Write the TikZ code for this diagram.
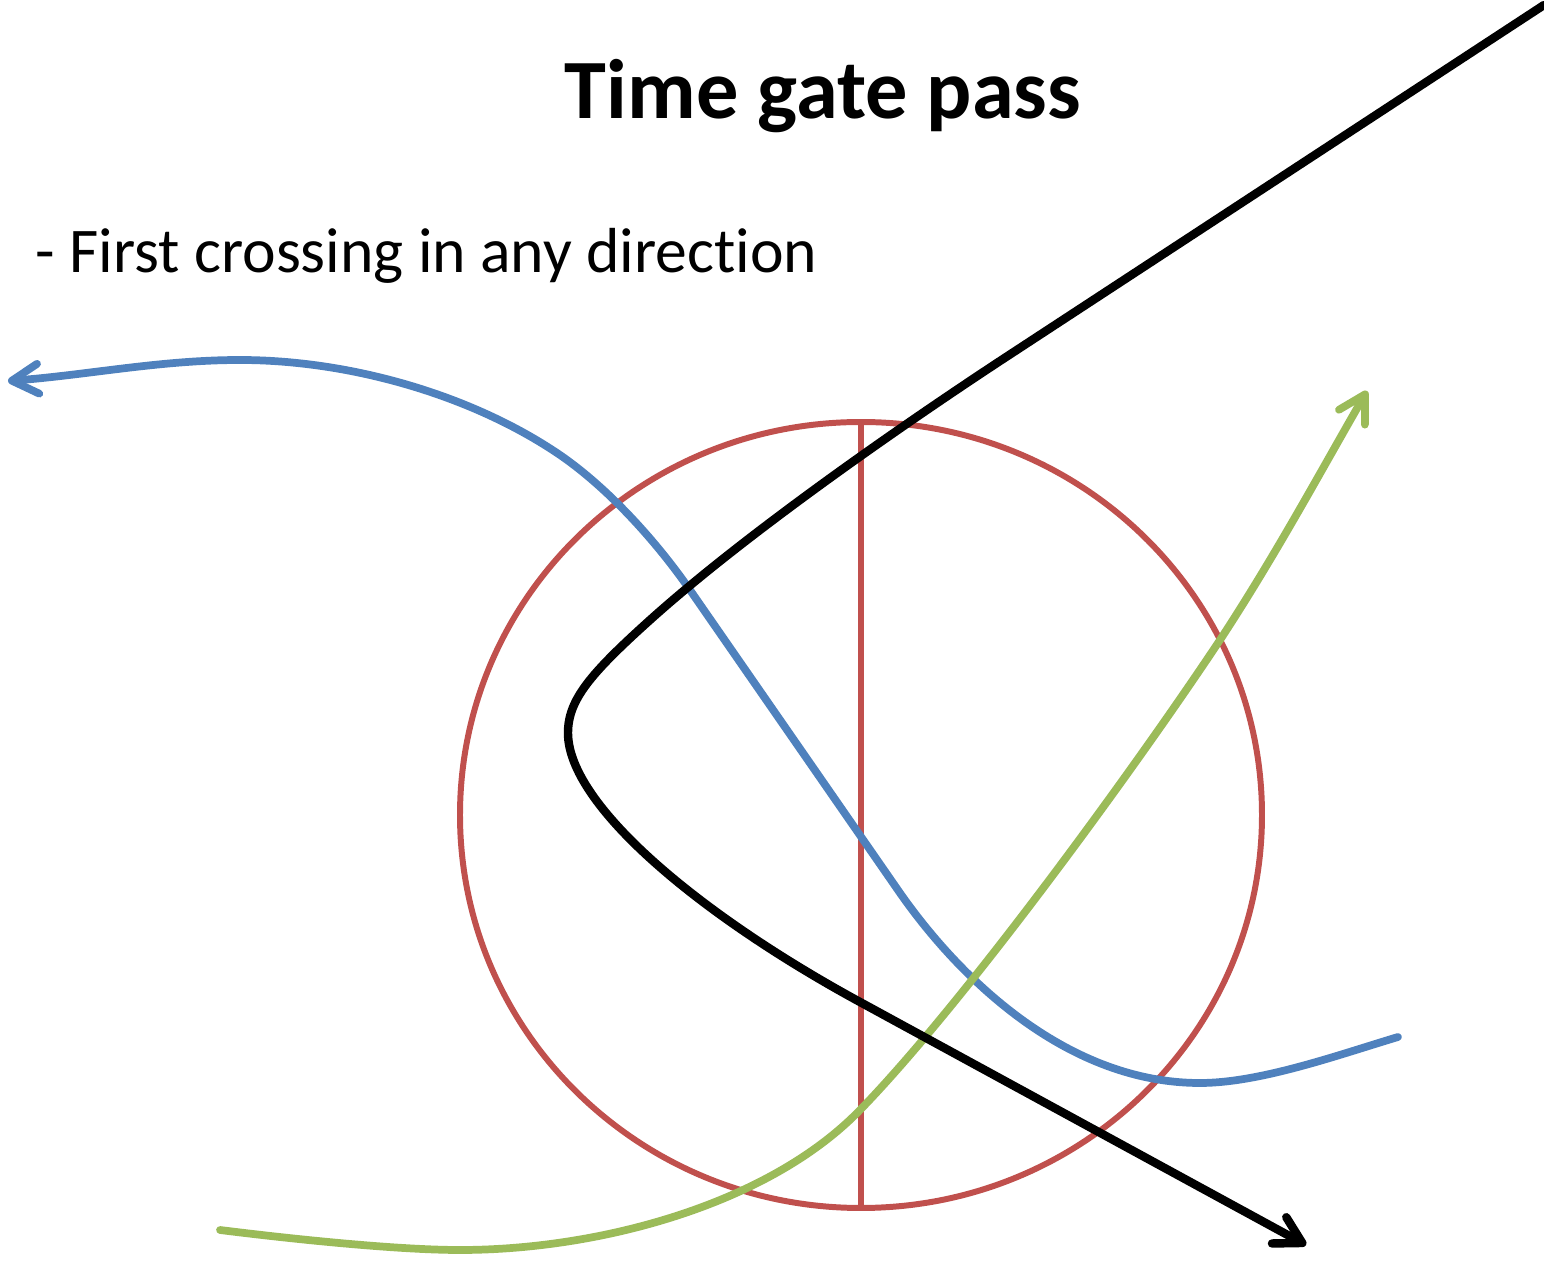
\documentclass[tikz,border=0pt]{standalone}
\usepackage{fontspec}
\setmainfont[Ligatures={NoCommon,NoContextual}]{Carlito}
\usetikzlibrary{arrows.meta}
\definecolor{gateRed}{HTML}{C0504D}
\definecolor{pathBlue}{HTML}{4F81BD}
\definecolor{pathGreen}{HTML}{9BBB59}
\tikzset{
  tip/.style={-{Straight Barb[length=7.5pt,width=8.5pt,round]}},
  track/.style={line width=2.2pt, line cap=round, line join=round},
  gate/.style={draw=gateRed, line width=1.7pt},
}
\begin{document}
\begin{tikzpicture}[x=0.01cm,y=-0.01cm]
\useasboundingbox (0,0) rectangle (1544,1264);
% gate circle and line
\draw[gate] (861,815) ellipse [x radius=401, y radius=393];
\coordinate (gtop) at (861,423);
\coordinate (gbot) at (861,1208);
\draw[gate] (gtop) -- (gbot);
% title and text
\node[font=\fontsize{24}{29}\selectfont\bfseries, anchor=base] (title) at (823,119) {Time gate pass};
\node[font=\fontsize{18.1}{22}\selectfont, anchor=base west, inner sep=0pt] (sub) at (35,273) {- First crossing in any direction};
% blue path
\coordinate (b0) at (1398,1037);
\coordinate (b6) at (8,381);
\draw[track, draw=pathBlue, tip] (b0)
  .. controls (1338,1055) and (1260,1083) .. (1200,1083)
  .. controls (1070,1083) and (963,983) .. (900,893)
  -- (690,590)
  .. controls (656,541) and (608,488) .. (560,455)
  .. controls (472,395) and (350,360) .. (240,360)
  .. controls (160,360) and (88,375) .. (b6);
% green path
\coordinate (g0) at (220,1230);
\coordinate (g6) at (1367,391);
\draw[track, draw=pathGreen, tip] (g0)
  .. controls (300,1240) and (400,1250) .. (460,1250)
  .. controls (600,1250) and (769,1204) .. (860,1110)
  .. controls (965,1002) and (1137,765) .. (1220,640)
  .. controls (1275,556) and (1317,478) .. (g6);
% black path
\coordinate (k0) at (1544,5);
\coordinate (k6) at (1306,1245);
\draw[track, line width=2.4pt, draw=black, tip] (k0)
  -- (1000,361)
  .. controls (883,438) and (739,540) .. (650,620)
  .. controls (590,674) and (568,700) .. (568,733)
  .. controls (568,805) and (700,915) .. (860,1002)
  -- (k6);
\end{tikzpicture}
\end{document}
